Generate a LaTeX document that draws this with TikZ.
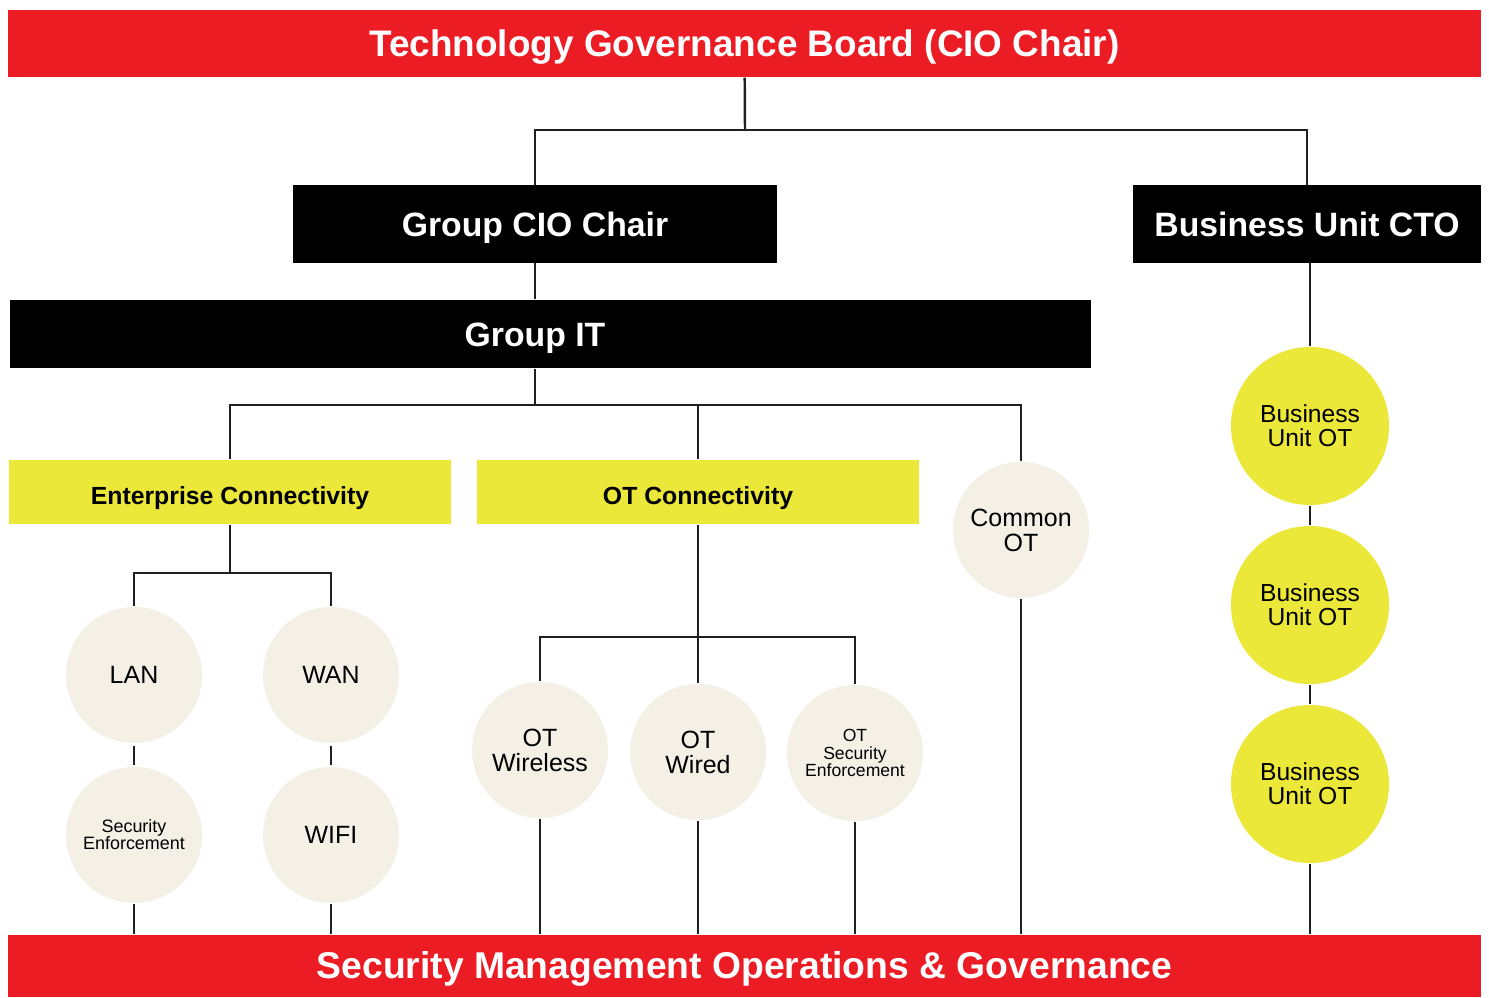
\documentclass[tikz,border=0pt]{standalone}
\usepackage{fontspec}
\setmainfont{Liberation Sans}
\definecolor{govred}{HTML}{EC1C24}
\definecolor{ctyellow}{HTML}{ECE83A}
\definecolor{otbeige}{HTML}{F4F0E6}
\definecolor{wire}{HTML}{231F20}

\begin{document}
\begin{tikzpicture}[x=0.01cm, y=-0.01cm,
    capline/.style={text height=0.72em, text depth=0pt},
    redbar/.style={fill=govred, text=white, inner sep=0pt, capline, minimum width=14.73cm, font=\fontsize{10.5}{12}\selectfont\bfseries},
    blackbox/.style={fill=black, text=white, inner sep=0pt, capline, minimum height=0.77cm, font=\fontsize{9.6}{11}\selectfont\bfseries},
    ybox/.style={fill=ctyellow, inner sep=0pt, capline, minimum width=4.42cm, minimum height=0.64cm, font=\fontsize{7.05}{8}\selectfont\bfseries},
    onode/.style={fill=otbeige, circle, inner sep=0pt, minimum size=1.36cm, align=center, font=\fontsize{7.1}{7.1}\selectfont},
    unode/.style={fill=ctyellow, circle, inner sep=0pt, minimum size=1.58cm, align=center, font=\fontsize{7}{6.9}\selectfont},
    small/.style={font=\fontsize{5.1}{4.8}\selectfont},
    wire/.style={draw=wire, line width=0.7pt}]
    \useasboundingbox (0,0) rectangle (1489,997);

    \node[redbar, minimum height=0.67cm] (tgb) at (744.5,43.5) {Technology Governance Board (CIO Chair)};
    \node[blackbox, minimum width=4.84cm] (gcio) at (535,224) {Group CIO Chair};
    \node[blackbox, minimum width=3.48cm] (bucto) at (1307,224) {Business Unit CTO};
    \node[blackbox, minimum width=10.81cm, minimum height=0.68cm,
          label={[text=white, capline, font=\fontsize{9.6}{11}\selectfont\bfseries, xshift=-0.155cm]center:Group IT}] (git) at (550.5,334) {};

    \node[ybox] (ec) at (230,492) {Enterprise Connectivity};
    \node[ybox] (otc) at (698,492) {OT Connectivity};
    \node[onode] (cot) at (1021,530) {Common\\OT};

    \node[onode] (lan) at (134,675) {LAN};
    \node[onode] (wan) at (331,675) {WAN};
    \node[onode, small] (sec) at (134,835) {Security\\Enforcement};
    \node[onode] (wifi) at (331,835) {WIFI};

    \node[onode] (otw) at (540,750) {OT\\Wireless};
    \node[onode] (otwd) at (698,752) {OT\\Wired};
    \node[onode, small, font=\fontsize{5}{5}\selectfont] (otse) at (855,753) {OT\\Security\\Enforcement};

    \node[unode] (bu1) at (1310,426) {Business\\Unit OT};
    \node[unode] (bu2) at (1310,605) {Business\\Unit OT};
    \node[unode] (bu3) at (1310,784) {Business\\Unit OT};

    \node[redbar, minimum height=0.62cm, font=\fontsize{10.6}{12}\selectfont\bfseries] (smg) at (744.5,966) {Security Management Operations \& Governance};

    \coordinate (j1) at (745,130);
    \coordinate (j2) at (535,405);
    \coordinate (j3) at (230,573);
    \coordinate (j4) at (698,637);

    \draw[wire] (tgb) -- (j1);
    \draw[wire] (gcio.north) |- (j1);
    \draw[wire] (bucto.north) |- (j1);
    \draw[wire] (gcio.south) -- (gcio.south |- git.north);

    \draw[wire] (j2 |- git.south) -- (j2);
    \draw[wire] (ec.north) |- (j2);
    \draw[wire] (otc.north) -- (otc.north |- j2);
    \draw[wire] (cot.north) |- (j2);

    \draw[wire] (ec.south) -- (j3);
    \draw[wire] (lan.north) |- (j3);
    \draw[wire] (wan.north) |- (j3);
    \draw[wire, shorten <=0.5pt, shorten >=0.5pt] (lan) -- (sec);
    \draw[wire, shorten <=0.5pt, shorten >=0.5pt] (wan) -- (wifi);

    \draw[wire] (otc.south) -- (j4);
    \draw[wire] (otw.north) |- (j4);
    \draw[wire] (otse.north) |- (j4);
    \draw[wire] (otwd.north) -- (j4);

    \draw[wire] (bu1.north |- bucto.south) -- (bu1.north);
    \draw[wire] (bu1) -- (bu2);
    \draw[wire] (bu2) -- (bu3);

    \foreach \n in {sec,wifi,otw,otwd,otse,cot,bu3}
      \draw[wire] (\n.south) -- (\n.south |- smg.north);
\end{tikzpicture}
\end{document}
